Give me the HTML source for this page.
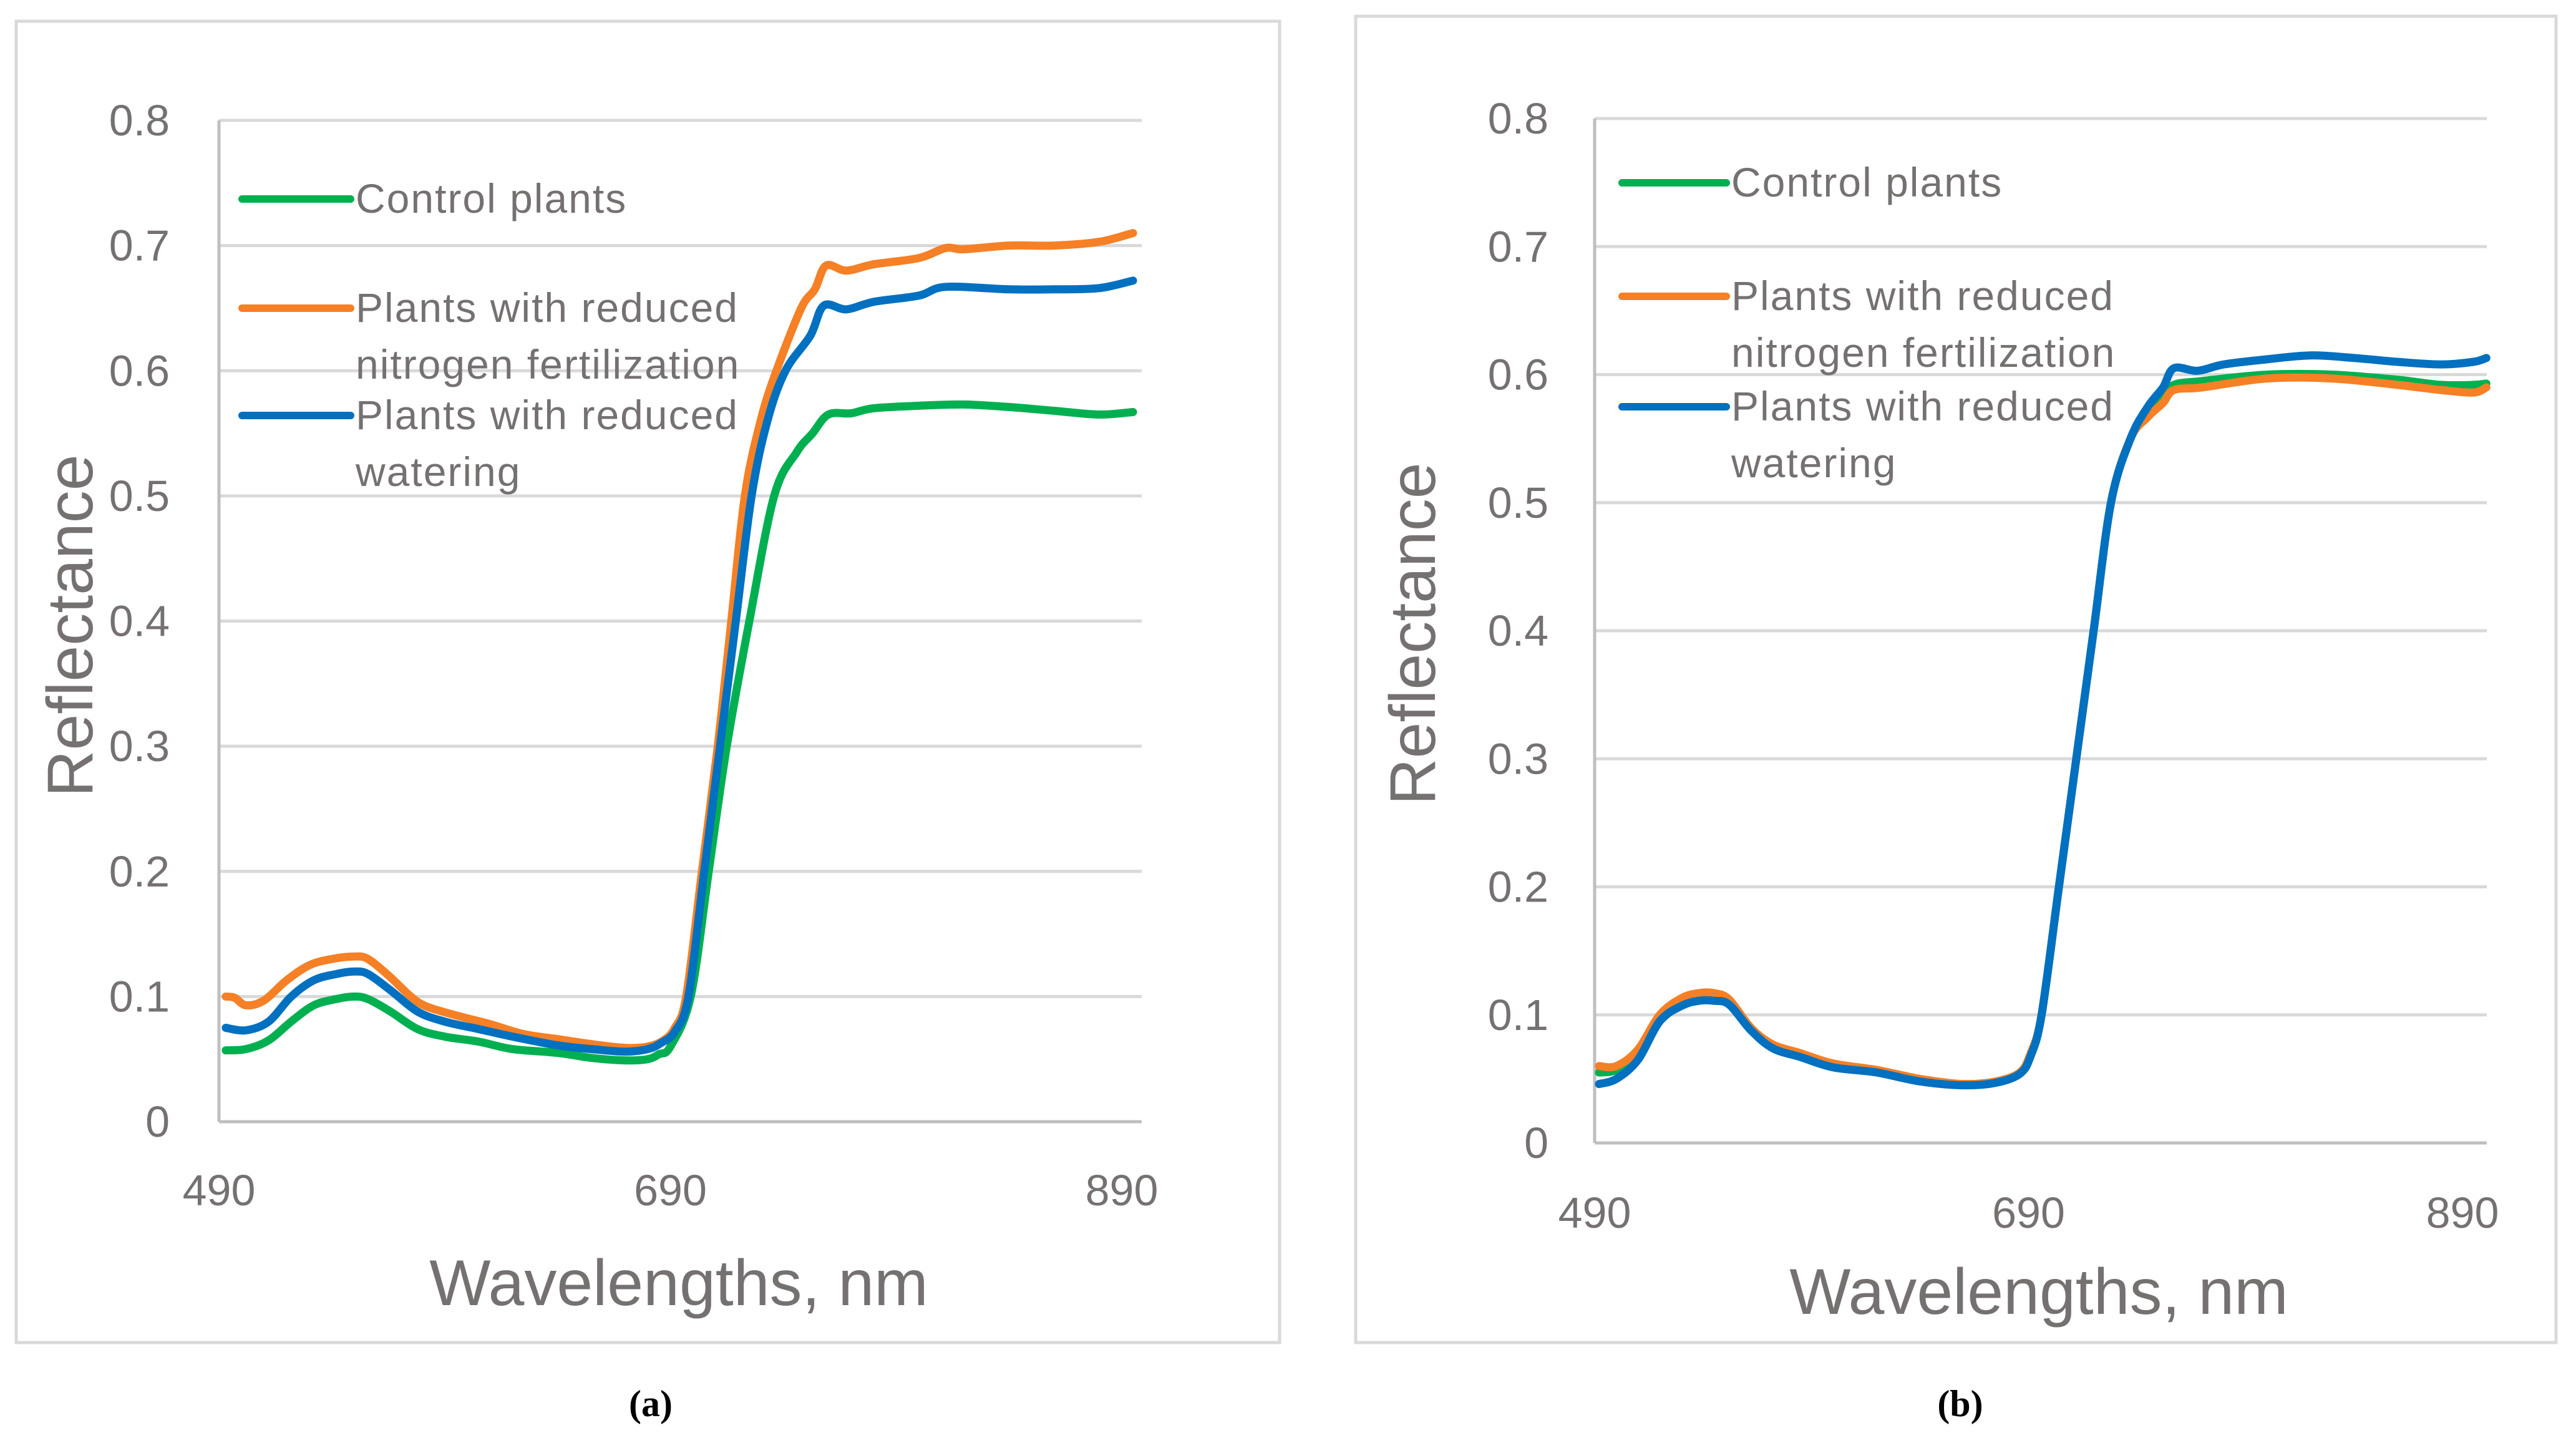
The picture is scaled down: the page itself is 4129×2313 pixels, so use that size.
<!DOCTYPE html>
<html><head><meta charset="utf-8"><style>
html,body{margin:0;padding:0;background:#fff;}
svg{display:block;}
text{font-family:"Liberation Sans",sans-serif;}
</style></head><body>
<svg id="fig" width="4129" height="2313" viewBox="0 0 4129 2313" xmlns="http://www.w3.org/2000/svg">
<rect x="26" y="34" width="2025" height="2118" fill="#fff" stroke="#d9d9d9" stroke-width="5"/>
<rect x="2173" y="26" width="1924" height="2126" fill="#fff" stroke="#d9d9d9" stroke-width="5"/>
<text x="1043" y="2270" font-size="60" font-weight="bold" text-anchor="middle" style="font-family:'Liberation Serif',serif">(a)</text>
<text x="3142" y="2270" font-size="60" font-weight="bold" text-anchor="middle" style="font-family:'Liberation Serif',serif">(b)</text>
</svg>
<script>
const yTicks=[0,0.1,0.2,0.3,0.4,0.5,0.6,0.7,0.8];
const yTickLabels=["0","0.1","0.2","0.3","0.4","0.5","0.6","0.7","0.8"];
const xTicks=[490,690,890];
const seriesNames=["Control plants","Plants with reduced|nitrogen fertilization","Plants with reduced|watering"];
const seriesColors=["#00b050","#f58025","#0070c0"];
const aWlControl=[493,502,512,522,532,542,550,556,566,578,590,605,620,640,655,670,680,685,690,699,707,715,725,736,746,753,760,770,780,800,820,840,860,880,895];
const aControl=[.057,.058,.065,.08,.093,.098,.1,.098,.088,.074,.068,.064,.058,.055,.051,.049,.05,.054,.06,.1,.2,.3,.4,.5,.535,.55,.565,.566,.57,.572,.573,.571,.568,.565,.567];
const aWlNitrogen=[493,497,502,510,520,530,540,550,556,565,575,582,595,610,625,640,655,670,680,687,692,697,704,711,717,723,730,737,748,754,759,768,780,800,812,820,840,860,880,895];
const aNitrogen=[.1,.099,.093,.097,.113,.125,.13,.132,.13,.117,.1,.092,.085,.078,.07,.066,.062,.059,.06,.065,.075,.1,.2,.3,.4,.5,.56,.6,.65,.665,.684,.68,.685,.69,.698,.697,.7,.7,.703,.71];
const aWlWater=[493,502,512,522,532,542,550,556,566,578,590,605,620,640,655,670,680,686,692,698,705,712,719,726,733,741,752,758,768,780,800,812,840,860,880,895];
const aWater=[.075,.073,.08,.1,.113,.118,.12,.118,.105,.088,.08,.074,.068,.061,.058,.056,.058,.063,.072,.1,.2,.3,.4,.5,.56,.6,.628,.652,.649,.655,.66,.667,.665,.665,.666,.672];
const bWlControl=[492,500,510,520,530,538,545,552,562,572,585,600,620,640,660,675,686,691,696,704,712,720,728,737,745,752,757,770,800,830,860,880,895,901];
const bControl=[.055,.057,.07,.095,.108,.113,.113,.11,.09,.075,.068,.06,.056,.049,.046,.048,.055,.07,.1,.2,.3,.4,.5,.55,.57,.582,.592,.595,.6,.6,.596,.592,.592,.593];
const bWlNitrogen=[492,500,510,520,530,538,545,552,562,572,585,600,620,640,660,675,686,691,696,704,712,720,728,737,745,752,757,770,800,830,860,880,895,901];
const bNitrogen=[.06,.06,.073,.1,.113,.117,.117,.112,.09,.077,.07,.062,.057,.05,.046,.048,.055,.07,.1,.2,.3,.4,.5,.55,.567,.578,.588,.59,.597,.597,.592,.588,.586,.59];
const bWlWater=[492,500,510,520,530,538,545,552,562,572,585,600,620,640,660,675,686,691,696,704,712,720,728,737,745,752,757,768,780,800,820,840,860,880,895,901];
const bWater=[.046,.05,.065,.095,.107,.111,.111,.108,.088,.074,.067,.059,.055,.048,.045,.047,.054,.068,.1,.2,.3,.4,.5,.55,.575,.59,.605,.603,.608,.612,.615,.613,.61,.608,.61,.613];

const NS="http://www.w3.org/2000/svg";
const svg=document.getElementById('fig');
function mk(tag,attrs){const e=document.createElementNS(NS,tag);for(const k in attrs)e.setAttribute(k,attrs[k]);svg.appendChild(e);return e;}
function smooth(pts){
  let d='M'+pts[0][0].toFixed(1)+','+pts[0][1].toFixed(1);
  for(let i=0;i<pts.length-1;i++){
    const p0=pts[Math.max(0,i-1)],p1=pts[i],p2=pts[i+1],p3=pts[Math.min(pts.length-1,i+2)];
    const c1x=p1[0]+(p2[0]-p0[0])/6,c1y=p1[1]+(p2[1]-p0[1])/6;
    const c2x=p2[0]-(p3[0]-p1[0])/6,c2y=p2[1]-(p3[1]-p1[1])/6;
    d+=` C${c1x.toFixed(1)},${c1y.toFixed(1)} ${c2x.toFixed(1)},${c2y.toFixed(1)} ${p2[0].toFixed(1)},${p2[1].toFixed(1)}`;
  }
  return d;
}

function panel(p,id,wls,vals){
  const sx=w=>p.x0+(w-490)*(p.x890-p.x0)/400;
  const sy=v=>p.y0-v*(p.y0-p.y8)/0.8;
  yTicks.forEach((t,i)=>{
    if(i>0){const g=mk('line',{x1:p.x0,x2:p.xr,y1:sy(t),y2:sy(t),stroke:'#d9d9d9','stroke-width':5});
      
      }
    const l=mk('text',{x:p.ylx,y:sy(t)+24,'font-size':70,fill:'#767171','text-anchor':'end'});
    l.textContent=yTickLabels[i];
    
    
  });
  const ax=mk('line',{x1:p.x0,x2:p.x0,y1:p.y8,y2:p.y0,stroke:'#bfbfbf','stroke-width':5});
  
  
  const bx=mk('line',{x1:p.x0,x2:p.xr,y1:p.y0,y2:p.y0,stroke:'#bfbfbf','stroke-width':5});
  
  
  xTicks.forEach(t=>{
    const l=mk('text',{x:sx(t),y:p.xly,'font-size':70,fill:'#767171','text-anchor':'middle'});
    l.textContent=t;
    
    
  });
  const xt=mk('text',{x:p.xtx,y:p.xty,'font-size':104,fill:'#767171','text-anchor':'middle'});
  xt.textContent='Wavelengths, nm';
  
  
  const yt=mk('text',{x:0,y:0,'font-size':104,fill:'#767171','text-anchor':'middle',transform:`translate(${p.ytx},${p.yty}) rotate(-90)`});
  yt.textContent='Reflectance';
  
  
  vals.forEach((arr,s)=>{
    const pts=arr.map((v,i)=>[sx(wls[s][i]),sy(v)]);
    const pa=mk('path',{d:smooth(pts),fill:'none',stroke:seriesColors[s],'stroke-width':13,'stroke-linejoin':'round','stroke-linecap':'round'});
    
    
  });
  seriesNames.forEach((n,s)=>{
    const ly=p.leg[s];
    const ln=mk('line',{x1:p.lx1,x2:p.lx2,y1:ly,y2:ly,stroke:seriesColors[s],'stroke-width':12,'stroke-linecap':'round'});
    
    
    n.split('|').forEach((part,k)=>{
      const t=mk('text',{x:p.lx2+8,y:ly+22+k*p.lh,'font-size':66,fill:'#767171','letter-spacing':'2'});
      t.textContent=part;
      
      
    });
  });
}
panel({x0:351,x890:1798,xr:1830,y0:1798,y8:193,ylx:272,xly:1932,xtx:1088,xty:2092,ytx:148,yty:1003,lx1:388,lx2:562,leg:[319,494,666],lh:91},'panel-a',[aWlControl,aWlNitrogen,aWlWater],[aControl,aNitrogen,aWater]);
panel({x0:2556,x890:3947,xr:3986,y0:1832,y8:190,ylx:2482,xly:1968,xtx:3268,xty:2106,ytx:2300,yty:1016,lx1:2600,lx2:2767,leg:[293,475,652],lh:91},'panel-b',[bWlControl,bWlNitrogen,bWlWater],[bControl,bNitrogen,bWater]);
</script>
</body></html>
